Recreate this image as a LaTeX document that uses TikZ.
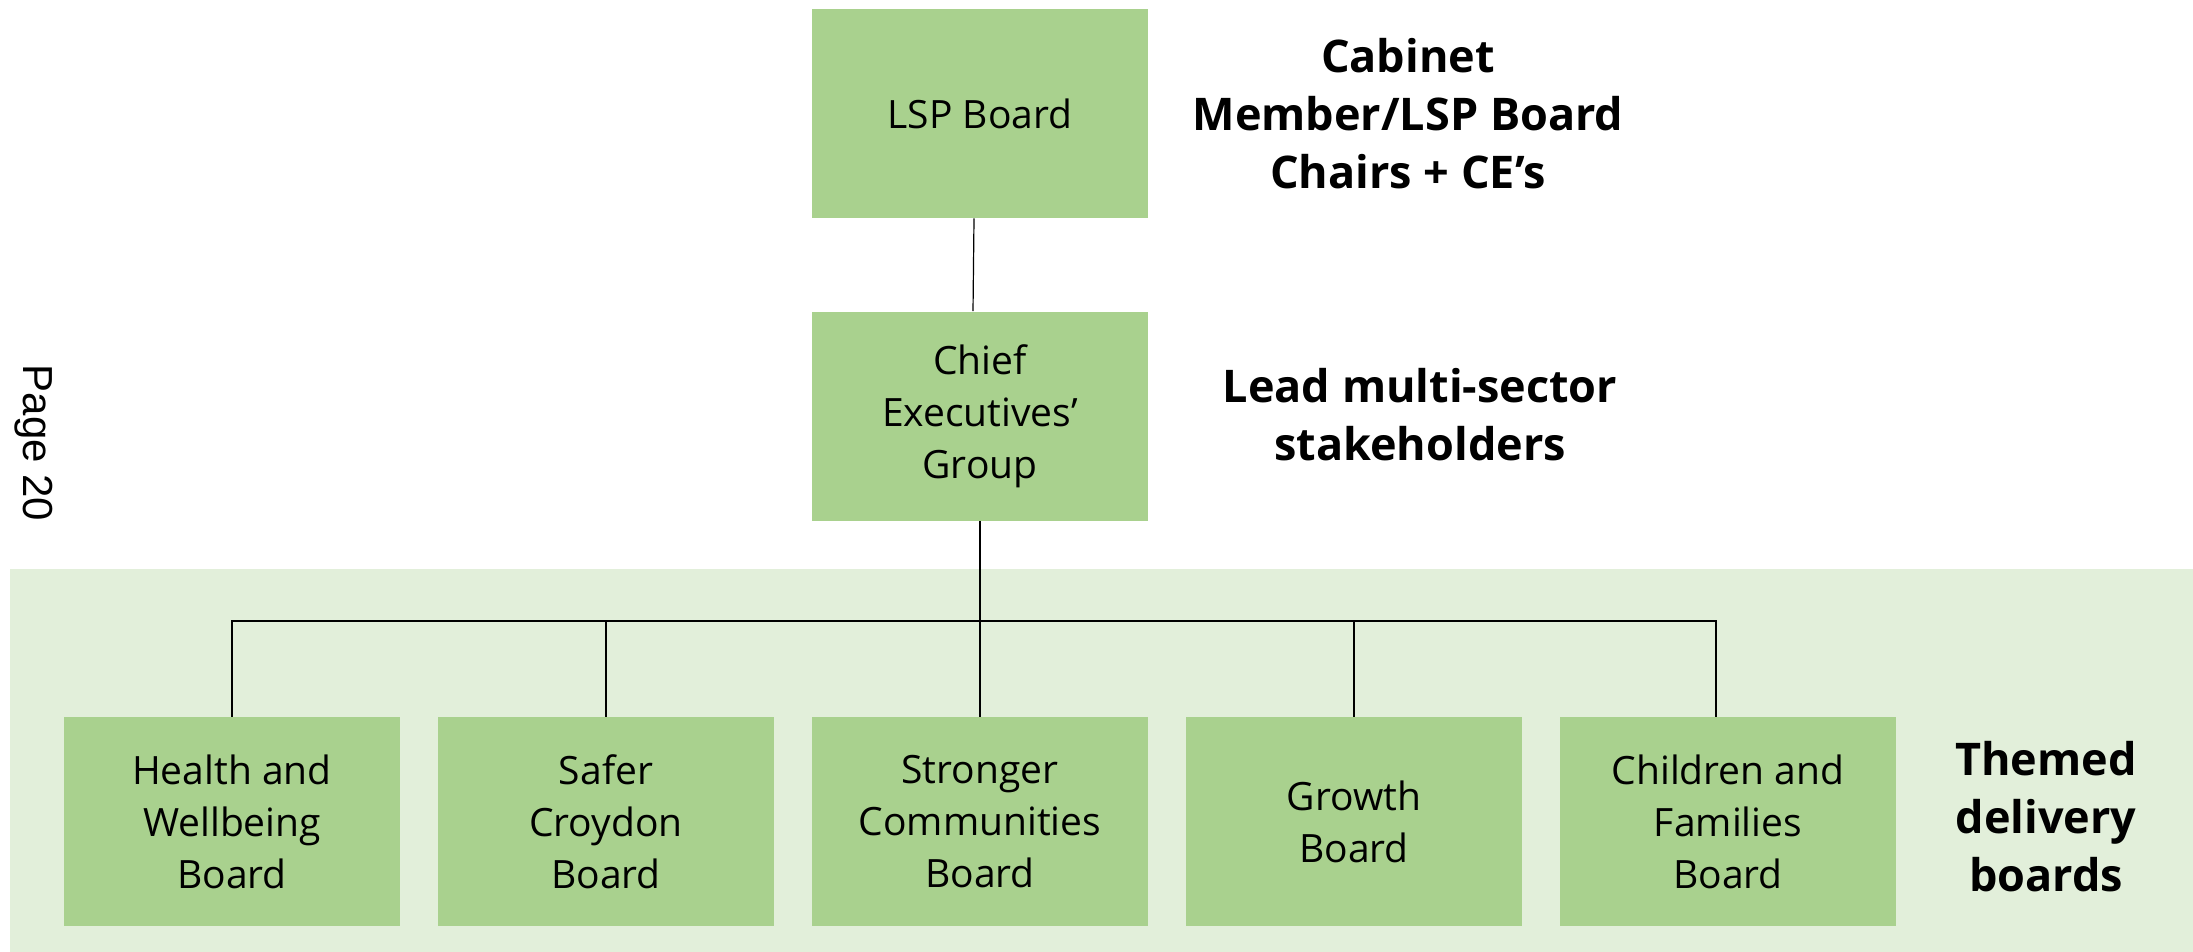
\documentclass[tikz,border=0pt]{standalone}
\usepackage{fontspec}
\setmainfont{Open Sans}
\newfontfamily\pagefont{Liberation Sans}
\usetikzlibrary{positioning}
\definecolor{boxgreen}{HTML}{A9D18E}
\definecolor{bandgreen}{HTML}{E2EFDA}

\begin{document}
\begin{tikzpicture}[x=0.5pt,y=-0.5pt,
    board/.style={fill=boxgreen,minimum width=168pt,minimum height=104.5pt,inner sep=0pt,
        align=center,font=\fontsize{19.5}{26}\selectfont},
    tier/.style={align=center,font=\bfseries\fontsize{22.5}{29}\selectfont},
    link/.style={black,line width=0.6pt}]
    \useasboundingbox (0,0) rectangle (2193,952);
    % delivery band
    \fill[bandgreen] (10,569) rectangle (2193,952);
    % top of the structure
    \node[board] (lsp) at (980,113.5) {LSP Board};
    \node[board] (ceg) at (980,416) {Chief\\Executives'\\Group};
    % themed boards
    \node[board] (health)   at (232,821.5)  {Health and\\Wellbeing\\Board};
    \node[board] (safer)    at (606,821.5)  {Safer\\Croydon\\Board};
    \node[board] (stronger) at (980,821.5)  {Stronger\\Communities\\Board};
    \node[board] (growth)   at (1354,821.5) {Growth\\Board};
    \node[board] (children) at (1728,821.5) {Children and\\Families\\Board};
    \coordinate (bus) at (980,621);
    % connectors
    \draw[link] ([xshift=-3pt]lsp.south) -- ([xshift=-3.5pt]ceg.north);
    \draw[link] (ceg.south) -- (stronger.north);
    \draw[link] (health.north) |- (bus) -| ([xshift=-6pt]children.north);
    \draw[link] (safer.north) -- (safer.north |- bus);
    \draw[link] (growth.north) -- (growth.north |- bus);
    % tier labels
    \node[tier] (cabinet) at (1408,114) {Cabinet\\Member/LSP Board\\Chairs + CE's};
    \node[tier] (lead) at (1420,415) {Lead multi-sector\\stakeholders};
    \node[tier] (themed) at (2046,817) {Themed\\delivery\\boards};
    \node[rotate=-90,font=\pagefont\fontsize{21}{25}\selectfont] (page) at (34,443) {Page 20};
\end{tikzpicture}
\end{document}
